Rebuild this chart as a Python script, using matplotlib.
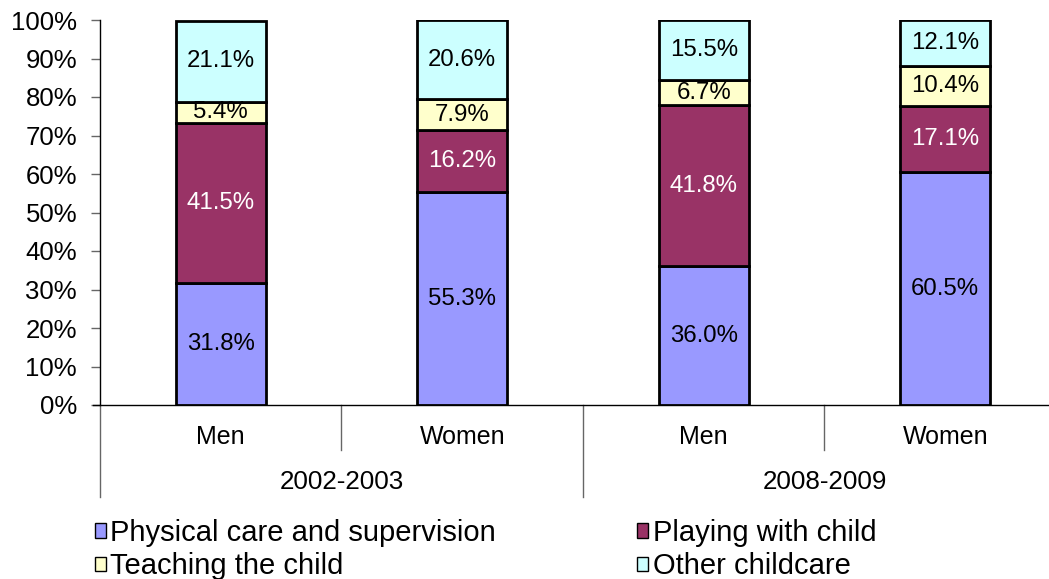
import matplotlib
matplotlib.use("Agg")
import matplotlib.pyplot as plt
from matplotlib.patches import Patch
from matplotlib.transforms import blended_transform_factory

plt.rcParams['font.family'] = ['Liberation Sans', 'DejaVu Sans']

groups = ["Men", "Women", "Men", "Women"]
periods = ["2002-2003", "2008-2009"]
series_names = ["Physical care and supervision", "Playing with child",
                "Teaching the child", "Other childcare"]
physical = [31.8, 55.3, 36.0, 60.5]
playing = [41.5, 16.2, 41.8, 17.1]
teaching = [5.4, 7.9, 6.7, 10.4]
other = [21.1, 20.6, 15.5, 12.1]
yticks = [0, 10, 20, 30, 40, 50, 60, 70, 80, 90, 100]

colors = ["#9999FF", "#993366", "#FFFFCC", "#CCFFFF"]
label_colors = ["black", "white", "black", "black"]

W, H = 1049, 579
fig = plt.figure(figsize=(W / 100, H / 100), dpi=100)
ax = fig.add_axes([100 / W, 1 - 405 / H, 966 / W, 385 / H])

x = list(range(len(groups)))
bottom = [0.0] * len(groups)
for vals, c, lc in zip([physical, playing, teaching, other], colors, label_colors):
    ax.bar(x, vals, bottom=bottom, width=0.373, color=c, edgecolor="black",
           linewidth=2.0, zorder=3)
    for xi, v, b in zip(x, vals, bottom):
        ax.text(xi, b + v / 2, f"{v:.1f}%", ha="center", va="center",
                color=lc, fontsize=17.3, zorder=4)
    bottom = [b + v for b, v in zip(bottom, vals)]

ax.set_xlim(-0.5, len(groups) - 0.5)
ax.set_ylim(0, 100)
ax.set_yticks(yticks)
ax.set_yticklabels([f"{t}%" for t in yticks], fontsize=18.5)
ax.tick_params(axis="y", direction="out", length=6.5, width=1, pad=10, color="#666666")
ax.set_xticks([])
for s in ["top", "right"]:
    ax.spines[s].set_visible(False)
ax.spines["left"].set_linewidth(1)
ax.spines["bottom"].set_linewidth(1)
ax.spines["bottom"].set_bounds(-0.53, len(groups) - 0.5)

tr = blended_transform_factory(ax.transData, ax.transAxes)
px = 1 / 385.0
for xi, g in zip(x, groups):
    ax.text(xi, -32 * px, g, ha="center", va="center", fontsize=18, transform=tr)
for i, p in enumerate(periods):
    ax.text(2 * i + 0.5, -77 * px, p, ha="center", va="center", fontsize=18.7, transform=tr)
for b in [0.5, 2.5]:
    ax.plot([b, b], [0, -45 * px], color="#666666", lw=1, transform=tr, clip_on=False)
for b in [-0.5, 1.5, 3.5]:
    ax.plot([b, b], [0, -92 * px], color="#666666", lw=1, transform=tr, clip_on=False)

handles = [Patch(facecolor=c, edgecolor="black", linewidth=1) for c in colors]
order = [0, 2, 1, 3]
leg = fig.legend([handles[i] for i in order], [series_names[i] for i in order],
                 ncol=2, loc="upper left", bbox_to_anchor=(95 / W, 1 - 519 / H),
                 frameon=False, fontsize=21, handlelength=0.38, handleheight=0.38,
                 handletextpad=0.15, columnspacing=4.83, labelspacing=0.18,
                 borderpad=0, borderaxespad=0)

fig.savefig("out.png", dpi=100)
